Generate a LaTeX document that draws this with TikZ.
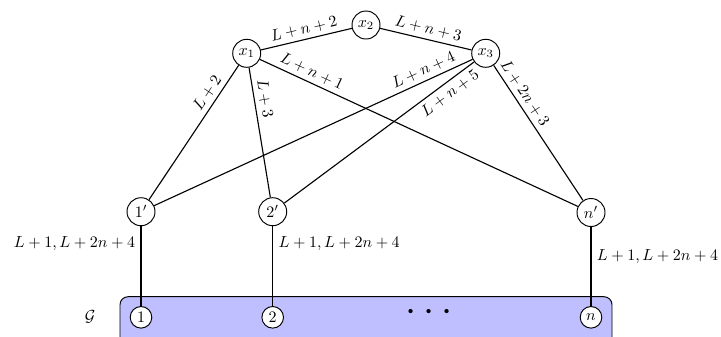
\documentclass[tikz,border=0pt]{standalone}
\begin{document}
\begin{tikzpicture}[x=0.625pt,y=-0.625pt,
  vtx/.style={circle,draw,line width=0.6pt,inner sep=1pt,minimum size=17.5pt,fill=white},
  gvtx/.style={circle,draw,line width=0.6pt,inner sep=0.5pt,minimum size=13.5pt,fill=white},
  elab/.style={sloped,inner sep=2.5pt},
  edge/.style={line width=0.7pt}]
\useasboundingbox (0,0) rectangle (721,336);
% graph box
\draw[fill=blue!25,rounded corners=5pt,line width=0.6pt] (120,296.7) rectangle (612,345);
\node (G) at (90,317) {$\mathcal{G}$};
\node (dots) at (429,313) {\Huge$\cdots$};
% nodes
\node[vtx] (x1) at (246.7,53.3) {$x_1$};
\node[vtx] (x2) at (366,25) {$x_2$};
\node[vtx] (x3) at (485.7,53.3) {$x_3$};
\node[vtx] (p1) at (141,211.7) {$1'$};
\node[vtx] (p2) at (272.7,211.7) {$2'$};
\node[vtx] (pn) at (591,212.5) {$n'$};
\node[gvtx] (g1) at (141,317.3) {$1$};
\node[gvtx] (g2) at (272.7,317.3) {$2$};
\node[gvtx] (gn) at (591,317.3) {$n$};
% edges
\draw[edge] (x1) -- node[elab,above] {$L+n+2$} (x2);
\draw[edge] (x2) -- node[elab,above] {$L+n+3$} (x3);
\draw[edge] (x1) -- node[elab,above,pos=0.25] {$L+2$} (p1);
\draw[edge] (x1) -- node[elab,above,pos=0.25] {$L+3$} (p2);
\draw[edge] (x1) -- node[elab,above,pos=0.15] {$L+n+1$} (pn);
\draw[edge] (x3) -- node[elab,above,pos=0.14] {$L+n+4$} (p1);
\draw[edge] (x3) -- node[elab,below,pos=0.16] {$L+n+5$} (p2);
\draw[edge] (x3) -- node[elab,above,pos=0.25] {$L+2n+3$} (pn);
\draw[edge] (p1) -- node[left,pos=0.22] {$L+1,L+2n+4$} (g1);
\draw[edge] (p2) -- node[right,pos=0.22] {$L+1,L+2n+4$} (g2);
\draw[edge] (pn) -- node[right,pos=0.37] {$L+1,L+2n+4$} (gn);
\end{tikzpicture}
\end{document}
